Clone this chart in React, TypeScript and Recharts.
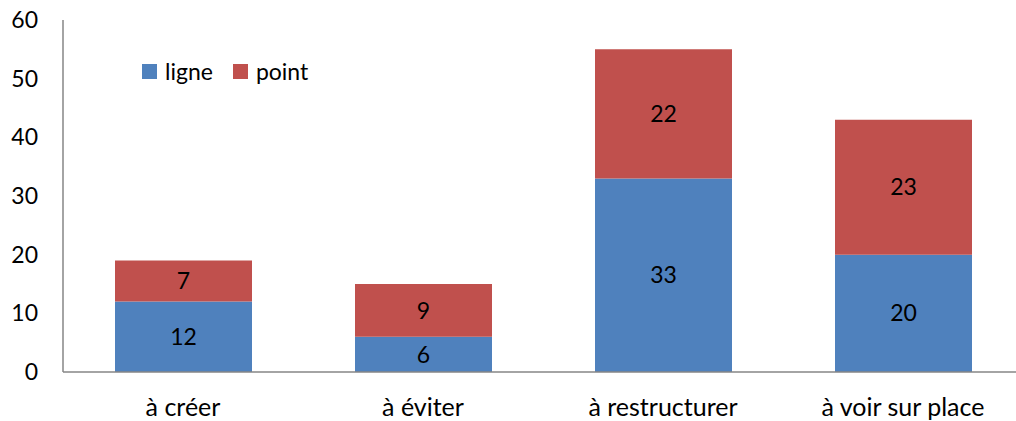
import React from "react";
import { BarChart, Bar, XAxis, YAxis, LabelList } from "recharts";

const categories = ["à créer", "à éviter", "à restructurer", "à voir sur place"];
const ligne = [12, 6, 33, 20];
const point = [7, 9, 22, 23];
const yTicks = [0, 10, 20, 30, 40, 50, 60];
const seriesNames = ["ligne", "point"];
const seriesColors = ["#4F81BD", "#C0504D"];

const data = categories.map((c, i) => ({ name: c, ligne: ligne[i], point: point[i] }));

const FONT = "Lato, 'Liberation Sans', sans-serif";
const FS = 23;

export default function App() {
  return (
    <div style={{ position: "absolute", left: 0, top: 0, width: 1016, height: 421, overflow: "hidden", background: "#fff", fontFamily: FONT }}>
      <BarChart
        width={1023}
        height={421}
        data={data}
        margin={{ top: 20, right: 0, left: 0, bottom: 0 }}
        barSize={137}
      >
        <XAxis
          dataKey="name"
          height={49}
          axisLine={{ stroke: "#868686", strokeWidth: 1.5 }}
          tickLine={false}
          tickSize={0}
          tickMargin={26}
          tick={{ fill: "#000", fontSize: 25, fontFamily: FONT }}
          interval={0}
        />
        <YAxis
          width={63}
          domain={[0, 60]}
          ticks={yTicks}
          axisLine={{ stroke: "#868686", strokeWidth: 1.5 }}
          tickLine={false}
          tickSize={0}
          tickMargin={25}
          tick={{ fill: "#000", fontSize: FS, fontFamily: FONT }}
          interval={0}
        />
        <Bar dataKey="ligne" stackId="a" fill={seriesColors[0]} isAnimationActive={false}>
          <LabelList dataKey="ligne" position="center" fill="#000" fontSize={FS} fontFamily={FONT} />
        </Bar>
        <Bar dataKey="point" stackId="a" fill={seriesColors[1]} isAnimationActive={false}>
          <LabelList dataKey="point" position="center" fill="#000" fontSize={FS} fontFamily={FONT} />
        </Bar>
      </BarChart>
      <div style={{ position: "absolute", left: 142, top: 57, display: "flex", alignItems: "center", fontSize: FS, lineHeight: "28px", color: "#000" }}>
        {seriesNames.map((n, i) => (
          <div key={n} style={{ display: "flex", alignItems: "center", marginRight: 20 }}>
            <span style={{ display: "inline-block", width: 15, height: 15, background: seriesColors[i], marginRight: 8 }} />
            <span>{n}</span>
          </div>
        ))}
      </div>
    </div>
  );
}
